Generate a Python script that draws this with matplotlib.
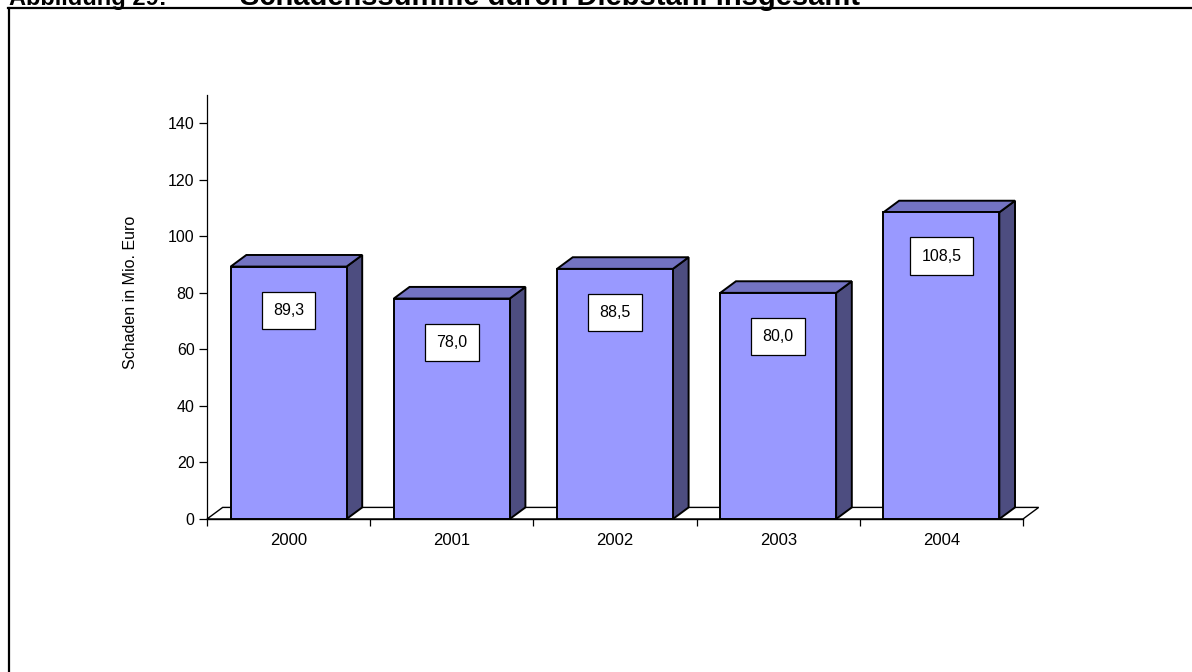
import matplotlib.pyplot as plt
from matplotlib.patches import Polygon, Rectangle
from matplotlib.lines import Line2D
from matplotlib import font_manager

years = ['2000', '2001', '2002', '2003', '2004']
schaden = [89.3, 78.0, 88.5, 80.0, 108.5]
labels = ['89,3', '78,0', '88,5', '80,0', '108,5']
y_ticks = [0, 20, 40, 60, 80, 100, 120, 140]

plt.rcParams['font.family'] = ['Liberation Sans', 'DejaVu Sans']

W, H = 1192, 672
fig = plt.figure(figsize=(W / 100, H / 100), dpi=100)

# axes placed in pixel coordinates of the reference
left, right, bottom, top = 207, 1023, 519, 95
ax = fig.add_axes([left / W, 1 - bottom / H, (right - left) / W, (bottom - top) / H])
ax.set_xlim(0, len(years))
ax.set_ylim(0, 150)

front = '#9999FF'
top_col = '#7373C2'
side_col = '#4D4D80'
dx, dy = 0.096, 4.1
half = 0.355

# floor
floor = Polygon([(0, 0), (dx, dy), (len(years) + dx, dy), (len(years), 0)],
                closed=True, facecolor='white', edgecolor='black', lw=1.0,
                zorder=1, clip_on=False)
ax.add_patch(floor)

for i, v in enumerate(schaden):
    c = i + 0.5
    x0, x1 = c - half, c + half
    side = Polygon([(x1, 0), (x1 + dx, dy), (x1 + dx, v + dy), (x1, v)], closed=True,
                   facecolor=side_col, edgecolor='black', lw=1.4, zorder=3, clip_on=False)
    topf = Polygon([(x0, v), (x0 + dx, v + dy), (x1 + dx, v + dy), (x1, v)], closed=True,
                   facecolor=top_col, edgecolor='black', lw=1.4, zorder=3, clip_on=False)
    rect = Rectangle((x0, 0), x1 - x0, v, facecolor=front, edgecolor='black',
                     lw=1.4, zorder=4, clip_on=False)
    ax.add_patch(side)
    ax.add_patch(topf)
    ax.add_patch(rect)
    ax.text(c, v - 15.5, labels[i], ha='center', va='center', fontsize=11.5, zorder=6,
            bbox=dict(boxstyle='square,pad=0.7', facecolor='white',
                      edgecolor='black', lw=0.9))

for s in ['top', 'right']:
    ax.spines[s].set_visible(False)
ax.spines['left'].set_linewidth(0.9)
ax.spines['bottom'].set_linewidth(1.0)
ax.spines['bottom'].set_zorder(5)

ax.set_yticks(y_ticks)
ax.set_yticklabels([str(t) for t in y_ticks])
ax.tick_params(axis='y', length=6, width=0.9, pad=3, labelsize=11.5)
ax.set_xticks(range(len(years) + 1))
ax.set_xticklabels([])
ax.set_xticks([i + 0.5 for i in range(len(years))], minor=True)
ax.set_xticklabels(years, minor=True)
ax.tick_params(axis='x', which='major', length=5, width=0.9)
ax.tick_params(axis='x', which='minor', length=0, pad=10, labelsize=12)

ax.set_ylabel('Schaden in Mio. Euro', fontsize=11.5)
ax.yaxis.set_label_coords(-0.084, 0.535)

# outer frame and title
fig.add_artist(Line2D([8.5 / W, 8.5 / W], [0, 1 - 8 / H], color='black', lw=1.6))
fig.add_artist(Line2D([8 / W, 1], [1 - 8 / H, 1 - 8 / H], color='black', lw=1.6))
names = {f.name for f in font_manager.fontManager.ttflist}
narrow = 'Liberation Sans Narrow' if 'Liberation Sans Narrow' in names else 'Liberation Sans'
fig.text(9 / W, 1 - 5 / H, 'Abbildung 29:', fontsize=20 if narrow != 'Liberation Sans' else 17,
         fontweight='bold', va='baseline', family=[narrow, 'DejaVu Sans'])
fig.text(240 / W, 1 - 5 / H, 'Schadenssumme durch Diebstahl insgesamt', fontsize=21,
         fontweight='bold', va='baseline')

fig.savefig('out.png', dpi=100)
